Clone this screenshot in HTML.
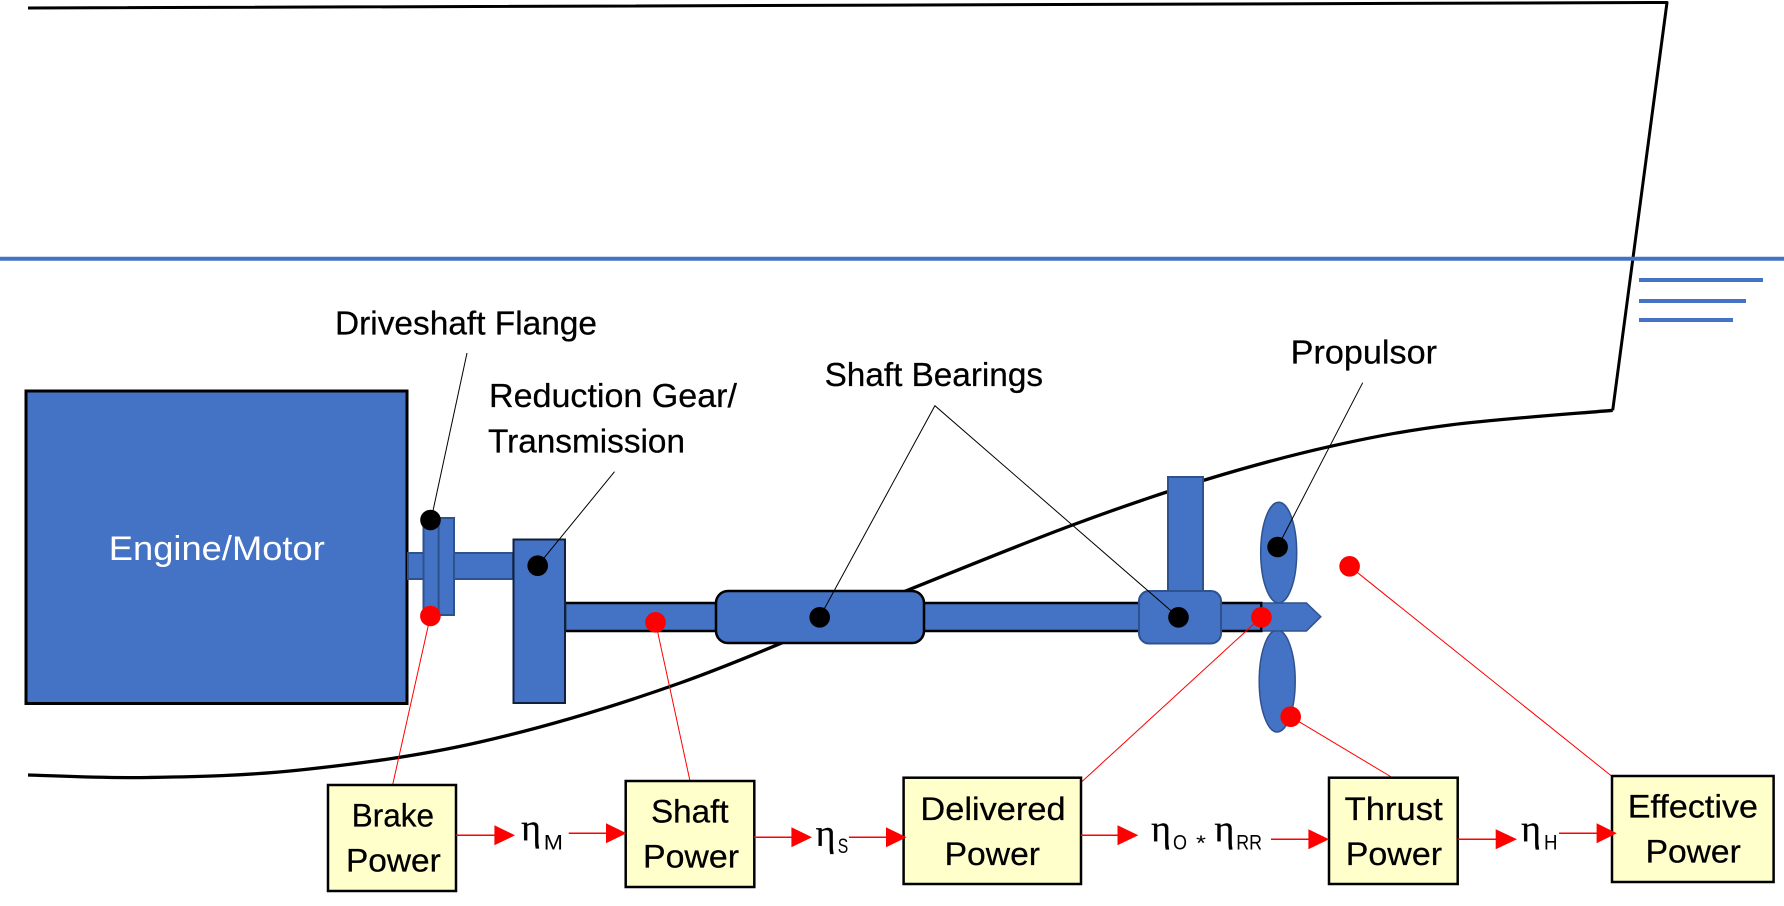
<!DOCTYPE html>
<html><head><meta charset="utf-8"><style>
html,body{margin:0;padding:0;background:#fff}
svg{display:block}
text{font-family:"Liberation Sans",sans-serif;fill:#000;font-size:33px;stroke:#000;stroke-width:.25px}
.n{font-size:32px}
.e{font-family:"Liberation Serif",serif;font-size:38px}
.s{font-size:21px;stroke-width:0}
</style></head><body>
<svg width="1784" height="906" viewBox="0 0 1784 906" xmlns="http://www.w3.org/2000/svg">
<rect width="1784" height="906" fill="#fff"/>
<!-- hull -->
<path d="M28,8 L1667,2.5 L1612.7,410.3" fill="none" stroke="#000" stroke-width="3" stroke-linejoin="round"/>
<path d="M28,775 C48,775.4 102.7,778.3 148,777.5 C193.3,776.7 244.7,775.9 300,770 C355.3,764.1 416.7,756.5 480,742 C543.3,727.5 608.3,708.5 680,683 C751.7,657.5 844.6,615.6 910,589.3 C975.4,563 1023.5,543.2 1072.6,525 C1121.7,506.8 1162,493 1204.7,480 C1247.4,467 1288.1,455.9 1329,446.7 C1369.9,437.5 1402.7,431.1 1450,425 C1497.3,418.9 1585.6,412.8 1612.7,410.3" fill="none" stroke="#000" stroke-width="3.3" stroke-linejoin="round"/>
<!-- water -->
<g stroke="#4472C4" stroke-width="4" fill="none">
<line x1="0" y1="258.7" x2="1784" y2="258.7"/>
<line x1="1639" y1="280" x2="1763" y2="280"/>
<line x1="1639" y1="301" x2="1746" y2="301"/>
<line x1="1639" y1="320" x2="1733" y2="320"/>
</g>
<!-- engine -->
<rect x="26" y="391" width="381" height="312.5" fill="#4472C4" stroke="#000" stroke-width="3"/>
<text x="108.8" y="560" textLength="216" lengthAdjust="spacingAndGlyphs" style="fill:#fff;stroke:none;font-size:34px">Engine/Motor</text>
<!-- driveshaft -->
<rect x="408" y="553" width="105" height="26" fill="#4472C4" stroke="#2F528F" stroke-width="2"/>
<rect x="423.5" y="518" width="30.5" height="97" fill="#4472C4" stroke="#2F528F" stroke-width="2"/>
<line x1="438.6" y1="518" x2="438.6" y2="615" stroke="#2F528F" stroke-width="2"/>
<!-- long shaft -->
<rect x="565" y="603" width="696.4" height="28" fill="#4472C4" stroke="#000" stroke-width="2.5"/>
<rect x="513.5" y="539.5" width="51.5" height="163.5" fill="#4472C4" stroke="#10203f" stroke-width="2"/>
<!-- rudder -->
<rect x="1168" y="477" width="35" height="114" fill="#4472C4" stroke="#2F528F" stroke-width="2"/>
<!-- propeller -->
<ellipse cx="1278.7" cy="552.6" rx="18" ry="50.3" fill="#4472C4" stroke="#2F528F" stroke-width="1.5"/>
<ellipse cx="1277.2" cy="681" rx="18" ry="51" fill="#4472C4" stroke="#2F528F" stroke-width="1.5"/>
<polygon points="1261.4,603 1306.4,603 1320.8,616.7 1306.4,631 1261.4,631" fill="#4472C4" stroke="#2F528F" stroke-width="1.5"/>
<line x1="1261.4" y1="602" x2="1261.4" y2="632" stroke="#000" stroke-width="2"/>
<!-- bearings -->
<rect x="716" y="591" width="208" height="52" rx="12" fill="#4472C4" stroke="#000" stroke-width="2.5"/>
<rect x="1139" y="591" width="82" height="52.5" rx="10" fill="#4472C4" stroke="#2F528F" stroke-width="2"/>
<!-- black leaders -->
<g stroke="#000" stroke-width="1" fill="none">
<line x1="467" y1="353" x2="431" y2="520"/>
<line x1="614.5" y1="471.7" x2="537.7" y2="565.7"/>
<polyline points="819.7,617.3 934.9,405.7 1178.5,617.3"/>
<line x1="1362.7" y1="382.7" x2="1277.6" y2="547"/>
</g>
<!-- black dots -->
<g fill="#000">
<circle cx="430.5" cy="520" r="10.3"/>
<circle cx="537.7" cy="565.7" r="10.3"/>
<circle cx="819.7" cy="617.3" r="10.3"/>
<circle cx="1178.5" cy="617.3" r="10.3"/>
<circle cx="1277.6" cy="547" r="10.3"/>
</g>
<!-- red leaders -->
<g stroke="#f00" stroke-width="1" fill="none">
<line x1="430.4" y1="616" x2="392.6" y2="785"/>
<line x1="655.5" y1="622" x2="690" y2="781"/>
<line x1="1261.4" y1="617" x2="1081.8" y2="781.7"/>
<line x1="1290.7" y1="716.7" x2="1393" y2="778"/>
<line x1="1349.6" y1="566.3" x2="1614" y2="778"/>
</g>
<g fill="#f00">
<circle cx="430.4" cy="616" r="10.3"/>
<circle cx="655.5" cy="622.3" r="10.3"/>
<circle cx="1261.4" cy="617.3" r="10.3"/>
<circle cx="1290.7" cy="716.7" r="10.3"/>
<circle cx="1349.6" cy="566.3" r="10.3"/>
</g>
<!-- boxes -->
<g fill="#FFFFCC" stroke="#000" stroke-width="2.5">
<rect x="328" y="785" width="128" height="106"/>
<rect x="625.7" y="781" width="128.6" height="106"/>
<rect x="903.6" y="777.7" width="177.4" height="106.3"/>
<rect x="1329" y="777.7" width="128.7" height="106.3"/>
<rect x="1612" y="776" width="161.6" height="106"/>
</g>
<!-- arrows -->
<g stroke="#f00" stroke-width="1.5" fill="none">
<line x1="456" y1="835.3" x2="496" y2="835.3"/>
<line x1="568.7" y1="833.3" x2="608" y2="833.3"/>
<line x1="754" y1="837.3" x2="793" y2="837.3"/>
<line x1="849" y1="837.3" x2="888" y2="837.3"/>
<line x1="1081" y1="835.3" x2="1119" y2="835.3"/>
<line x1="1271" y1="839.3" x2="1310" y2="839.3"/>
<line x1="1457.7" y1="839.3" x2="1497" y2="839.3"/>
<line x1="1559" y1="833.3" x2="1598" y2="833.3"/>
</g>
<g fill="#f00">
<polygon points="494.4,825.3 515,835.3 494.4,845.3"/>
<polygon points="606,823.3 626.5,833.3 606,843.3"/>
<polygon points="791.4,827.3 812,837.3 791.4,847.3"/>
<polygon points="886,827.3 906.5,837.3 886,847.3"/>
<polygon points="1117.5,825.3 1138.3,835.3 1117.5,845.3"/>
<polygon points="1308.4,829.3 1329,839.3 1308.4,849.3"/>
<polygon points="1495.7,829.3 1517,839.3 1495.7,849.3"/>
<polygon points="1596.6,823.3 1616.8,833.3 1596.6,843.3"/>
</g>
<!-- labels -->
<text x="335" y="334.3" textLength="262" lengthAdjust="spacingAndGlyphs">Driveshaft Flange</text>
<text x="489" y="407" textLength="248" lengthAdjust="spacingAndGlyphs">Reduction Gear/</text>
<text x="488" y="452.7" textLength="197" lengthAdjust="spacingAndGlyphs">Transmission</text>
<text x="824.6" y="386" textLength="218.4" lengthAdjust="spacingAndGlyphs">Shaft Bearings</text>
<text x="1290.7" y="363.3" textLength="146.3" lengthAdjust="spacingAndGlyphs">Propulsor</text>
<text class="n" x="351.7" y="826.7" textLength="82.3" lengthAdjust="spacingAndGlyphs">Brake</text>
<text class="n" x="346" y="871.7" textLength="94.8" lengthAdjust="spacingAndGlyphs">Power</text>
<text class="n" x="651" y="822.3" textLength="77.6" lengthAdjust="spacingAndGlyphs">Shaft</text>
<text class="n" x="643" y="867.7" textLength="96" lengthAdjust="spacingAndGlyphs">Power</text>
<text class="n" x="920.4" y="820" textLength="145.2" lengthAdjust="spacingAndGlyphs">Delivered</text>
<text class="n" x="944.6" y="865" textLength="95.4" lengthAdjust="spacingAndGlyphs">Power</text>
<text class="n" x="1344.7" y="820" textLength="98" lengthAdjust="spacingAndGlyphs">Thrust</text>
<text class="n" x="1345.8" y="865" textLength="96.2" lengthAdjust="spacingAndGlyphs">Power</text>
<text class="n" x="1627.8" y="817.7" textLength="130.2" lengthAdjust="spacingAndGlyphs">Effective</text>
<text class="n" x="1645.6" y="862.7" textLength="95.2" lengthAdjust="spacingAndGlyphs">Power</text>
<!-- efficiencies -->
<text class="e" x="521" y="840.7" textLength="20" lengthAdjust="spacingAndGlyphs">η</text>
<text class="s" x="543.8" y="849.3" textLength="19.2" lengthAdjust="spacingAndGlyphs">M</text>
<text class="e" x="815.5" y="846" textLength="20" lengthAdjust="spacingAndGlyphs">η</text>
<text class="s" x="837.7" y="853" textLength="10.5" lengthAdjust="spacingAndGlyphs">S</text>
<text class="e" x="1151" y="841.7" textLength="20" lengthAdjust="spacingAndGlyphs">η</text>
<text class="s" x="1173" y="849.3" textLength="14" lengthAdjust="spacingAndGlyphs">O</text>
<text class="s" x="1196" y="850" textLength="10" lengthAdjust="spacingAndGlyphs">*</text>
<text class="e" x="1214.4" y="841.7" textLength="20" lengthAdjust="spacingAndGlyphs">η</text>
<text class="s" x="1236.3" y="849.3" textLength="25.7" lengthAdjust="spacingAndGlyphs">RR</text>
<text class="e" x="1521" y="841.7" textLength="20" lengthAdjust="spacingAndGlyphs">η</text>
<text class="s" x="1544" y="849.3" textLength="13.5" lengthAdjust="spacingAndGlyphs">H</text>
</svg>
</body></html>
